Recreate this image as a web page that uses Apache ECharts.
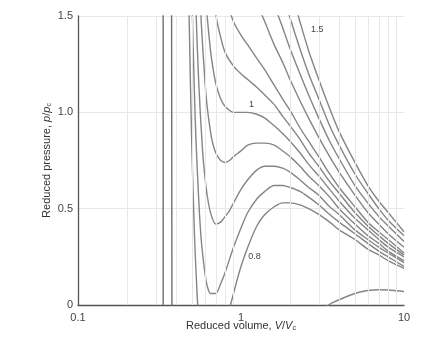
<!DOCTYPE html>
<html>
<head>
<meta charset="utf-8">
<script src="https://cdn.jsdelivr.net/npm/echarts@6/dist/echarts.min.js"></script>
<style>
html,body{margin:0;padding:0;background:#fff;}
#chart{width:443px;height:342px;}
</style>
</head>
<body>
<div id="chart"></div>
<script>
// Reduced volume V/Vc vs reduced pressure p/pc
const curve080 = [[0.46,2.66],[0.47,2.03],[0.48,1.52],[0.5,0.80],[0.52,0.33],[0.53,0.17],[0.55,-0.07],[0.6,-0.33],[0.7,-0.30],[0.8,-0.12],[0.85,-0.02],[0.9,0.06],[0.95,0.135],[1.0,0.20],[1.1,0.30],[1.25,0.41],[1.4,0.47],[1.6,0.51],[1.8,0.53],[2.0,0.53],[2.3,0.52],[2.6,0.50],[3.0,0.47],[3.5,0.43],[4,0.39],[5,0.34],[6,0.29],[7,0.26],[8,0.23],[10,0.19]];
const curve085 = [[0.46,3.72],[0.48,2.43],[0.5,1.60],[0.52,1.05],[0.53,0.85],[0.55,0.55],[0.57,0.34],[0.6,0.17],[0.62,0.10],[0.65,0.06],[0.7,0.06],[0.75,0.11],[0.8,0.17],[0.9,0.30],[1.0,0.40],[1.1,0.48],[1.25,0.55],[1.4,0.59],[1.6,0.62],[1.8,0.62],[2.0,0.61],[2.3,0.59],[2.6,0.56],[3.0,0.52],[3.5,0.47],[4,0.43],[5,0.37],[6,0.32],[7,0.28],[8,0.25],[10,0.20]];
const curve090 = [[0.48,3.34],[0.5,2.40],[0.52,1.76],[0.53,1.52],[0.55,1.16],[0.58,0.81],[0.6,0.67],[0.62,0.57],[0.65,0.48],[0.7,0.42],[0.75,0.43],[0.8,0.46],[0.85,0.49],[0.9,0.53],[1.0,0.60],[1.1,0.65],[1.25,0.70],[1.4,0.72],[1.6,0.72],[1.8,0.71],[2.0,0.69],[2.3,0.65],[2.6,0.61],[3.0,0.57],[3.5,0.51],[4,0.47],[5,0.39],[6,0.34],[7,0.30],[8,0.27],[10,0.22]];
const curve095 = [[0.52,2.48],[0.55,1.78],[0.57,1.47],[0.6,1.17],[0.62,1.03],[0.65,0.90],[0.67,0.84],[0.7,0.79],[0.75,0.75],[0.8,0.74],[0.85,0.75],[0.9,0.77],[1.0,0.80],[1.1,0.83],[1.25,0.84],[1.4,0.84],[1.6,0.83],[1.8,0.80],[2.0,0.77],[2.3,0.72],[2.6,0.67],[3.0,0.62],[3.5,0.56],[4,0.50],[5,0.42],[6,0.36],[7,0.32],[8,0.28],[10,0.23]];
const curve100 = [[0.55,2.39],[0.57,2.03],[0.6,1.67],[0.62,1.50],[0.65,1.32],[0.67,1.24],[0.7,1.15],[0.75,1.07],[0.8,1.03],[0.9,1.00],[1.0,1.00],[1.1,1.00],[1.25,0.99],[1.4,0.97],[1.6,0.93],[1.8,0.89],[2.0,0.85],[2.3,0.79],[2.6,0.73],[3.0,0.67],[3.5,0.60],[4,0.54],[5,0.45],[6,0.39],[7,0.34],[8,0.30],[10,0.25]];
const curve105 = [[0.6,2.17],[0.65,1.74],[0.7,1.51],[0.75,1.39],[0.8,1.31],[0.9,1.24],[1.0,1.20],[1.1,1.17],[1.25,1.13],[1.4,1.09],[1.6,1.04],[1.8,0.98],[2.0,0.93],[2.3,0.86],[2.6,0.79],[3.0,0.72],[3.5,0.64],[4,0.58],[5,0.48],[6,0.41],[7,0.36],[8,0.32],[10,0.26]];
const curve110 = [[0.7,1.88],[0.75,1.71],[0.8,1.60],[0.9,1.47],[1.0,1.40],[1.1,1.35],[1.25,1.28],[1.4,1.22],[1.6,1.14],[1.8,1.07],[2.0,1.01],[2.3,0.92],[2.6,0.85],[3.0,0.77],[3.5,0.68],[4,0.61],[5,0.51],[6,0.43],[7,0.38],[8,0.34],[10,0.27]];
const curve120 = [[1.0,1.80],[1.1,1.70],[1.25,1.57],[1.4,1.47],[1.6,1.35],[1.8,1.26],[2.0,1.17],[2.3,1.06],[2.6,0.97],[3.0,0.87],[3.5,0.77],[4,0.69],[5,0.57],[6,0.48],[7,0.42],[8,0.37],[10,0.30]];
const curve130 = [[1.25,1.86],[1.4,1.72],[1.6,1.56],[1.8,1.44],[2.0,1.33],[2.3,1.20],[2.6,1.09],[3.0,0.97],[3.5,0.85],[4,0.76],[5,0.62],[6,0.53],[7,0.46],[8,0.41],[10,0.33]];
const curve140 = [[1.6,1.78],[1.8,1.62],[2.0,1.49],[2.3,1.33],[2.6,1.20],[3.0,1.07],[3.5,0.93],[4,0.83],[5,0.68],[6,0.58],[7,0.50],[8,0.44],[10,0.36]];
const curve150 = [[1.8,1.80],[2.0,1.65],[2.3,1.47],[2.6,1.32],[3.0,1.17],[3.5,1.02],[4,0.90],[5,0.74],[6,0.62],[7,0.54],[8,0.48],[10,0.38]];
const lowLeft = [[0.375,1.6],[0.377,0.0],[0.38,-0.5]];
const lowRight = [[3.3,-0.01],[3.7,0.015],[4.2,0.035],[4.7,0.052],[5.3,0.066],[6,0.075],[7,0.079],[8,0.078],[9,0.074],[10,0.07]];
const limitLine = [[0.333,0],[0.333,1.6]];
const curves = [curve080,curve085,curve090,curve095,curve100,curve105,curve110,curve120,curve130,curve140,curve150];
const curveNames = ['0.8','0.85','0.9','0.95','1','1.05','1.1','1.2','1.3','1.4','1.5'];
const curveLabels = [
  {name:'0.8', coord:[1.21,0.254]},
  {name:'1', coord:[1.16,1.04]},
  {name:'1.5', coord:[2.94,1.43]}
];
const xTicks = [0.1,1,10];
const yTicks = [0,0.5,1.0,1.5];

const gridX = [];
[0.1,1].forEach(d => { for (let k=2;k<=9;k++) gridX.push({xAxis: +(d*k).toPrecision(3)}); });

const lineColor = '#858585';
const series = curves.map((c,i) => ({
  type:'line', name:curveNames[i], data:c, showSymbol:false, symbol:'none',
  smooth:0.3, clip:true,
  lineStyle:{color:lineColor, width:1.4}, z:3
}));
series.push({type:'line', data:lowLeft, symbol:'none', clip:true, lineStyle:{color:'#707070', width:1.4}, z:3});
series.push({type:'line', data:lowRight, symbol:'none', smooth:0.3, clip:true, lineStyle:{color:lineColor, width:1.4}, z:3});
series.push({type:'line', data:limitLine, symbol:'none', clip:true, lineStyle:{color:'#707070', width:1.4}, z:3,
  markLine:{silent:true, symbol:'none', label:{show:false}, lineStyle:{color:'#e8e8e8', width:1, type:'solid'}, data:gridX}});
series.push({type:'scatter', data:[], markPoint:{
  symbol:'circle', symbolSize:0,
  label:{show:true, color:'#444', fontSize:9, fontFamily:'Liberation Sans', formatter:p=>p.name},
  data:curveLabels.map(l=>({name:l.name, coord:l.coord}))
}});

const chart = echarts.init(document.getElementById('chart'));
chart.setOption({
  animation:false,
  backgroundColor:'#ffffff',
  textStyle:{fontFamily:'Liberation Sans'},
  grid:{left:78, right:39, top:16, bottom:37},
  xAxis:{
    type:'log', logBase:10, min:xTicks[0], max:xTicks[xTicks.length-1],
    axisLine:{show:true, onZero:false, lineStyle:{color:'#555', width:1.3}},
    axisTick:{show:false},
    splitLine:{show:false},
    axisLabel:{color:'#444', fontSize:11, margin:7, formatter:v=>String(parseFloat((+v).toPrecision(3)))},
    name:'Reduced volume, {i|V}/{i|V}{s|c}', nameLocation:'middle', nameGap:15, nameMoveOverlap:false,
    nameTextStyle:{color:'#333', fontSize:11, rich:{i:{fontStyle:'italic', fontSize:11, color:'#333'}, s:{fontSize:7, color:'#333', padding:[5,0,0,0]}}}
  },
  yAxis:{
    type:'value', min:yTicks[0], max:yTicks[yTicks.length-1], interval:0.5,
    axisLine:{show:true, lineStyle:{color:'#555', width:1.3}},
    axisTick:{show:false},
    splitLine:{show:true, lineStyle:{color:'#e8e8e8', width:1}},
    axisLabel:{color:'#444', fontSize:11, margin:5, formatter:v=>v===0?'0':v.toFixed(1)},
    name:'Reduced pressure, {i|p}/{i|p}{s|c}', nameLocation:'middle', nameGap:25, nameMoveOverlap:false,
    nameTextStyle:{color:'#333', fontSize:11, rich:{i:{fontStyle:'italic', fontSize:11, color:'#333'}, s:{fontSize:7, color:'#333', padding:[5,0,0,0]}}}
  },
  series:series
});
</script>
</body>
</html>
